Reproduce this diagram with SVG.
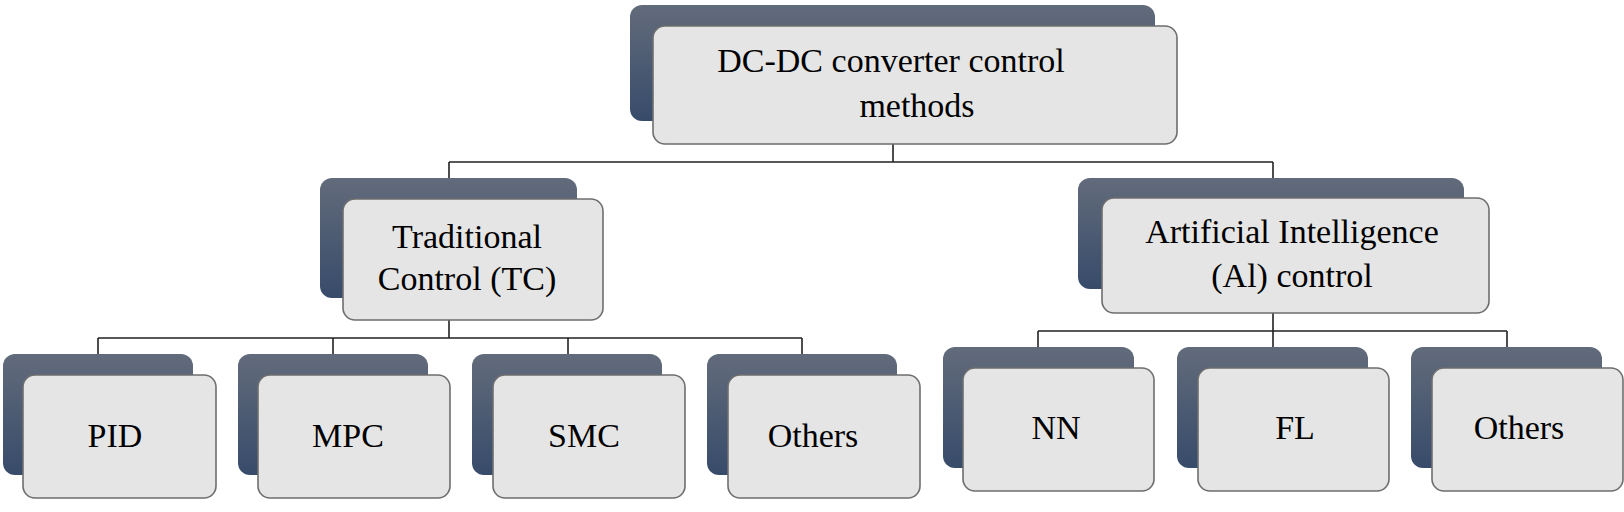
<svg xmlns="http://www.w3.org/2000/svg" width="1624" height="512" viewBox="0 0 1624 512">
<defs>
<linearGradient id="bg" x1="0" y1="0" x2="0" y2="1">
<stop offset="0" stop-color="#626b7b"/>
<stop offset="1" stop-color="#374b6a"/>
</linearGradient>
<style>
.back{fill:url(#bg);}
.front{fill:#e5e5e5;stroke:#6e6e6e;stroke-width:1.6;}
.t{font-family:"Liberation Serif","Times New Roman",serif;font-size:34px;fill:#000;text-anchor:middle;}
.c{fill:none;stroke:#222;stroke-width:1.6;}
</style>
</defs>
<rect width="1624" height="512" fill="#fff"/>
<g id="connectors">
<path class="c" d="M893 144V162M449 162H1273M449 162V178M1273 162V178"/>
<path class="c" d="M449 320V338M98 338H802M98 338V354M333 338V354M568 338V354M802 338V354"/>
<path class="c" d="M1273 313V331M1038 331H1507M1038 331V347M1273 331V347M1507 331V347"/>
</g>
<g id="root">
<rect class="back" x="630" y="5" width="525" height="116" rx="12"/>
<rect class="front" x="653" y="26" width="524" height="118" rx="12"/>
<text class="t" x="891" y="72">DC-DC converter control</text>
<text class="t" x="917" y="117">methods</text>
</g>
<g id="tc">
<rect class="back" x="320" y="178" width="257" height="120" rx="12"/>
<rect class="front" x="343" y="199" width="260" height="121" rx="12"/>
<text class="t" x="467" y="248">Traditional</text>
<text class="t" x="467" y="290">Control (TC)</text>
</g>
<g id="ai">
<rect class="back" x="1078" y="178" width="386" height="111" rx="12"/>
<rect class="front" x="1102" y="198" width="387" height="115" rx="12"/>
<text class="t" x="1292" y="243">Artificial Intelligence</text>
<text class="t" x="1292" y="287">(Al) control</text>
</g>
<g id="pid">
<rect class="back" x="3" y="354" width="190" height="121" rx="12"/>
<rect class="front" x="23" y="375" width="193" height="123" rx="12"/>
<text class="t" x="115" y="447">PID</text>
</g>
<g id="mpc">
<rect class="back" x="238" y="354" width="190" height="121" rx="12"/>
<rect class="front" x="258" y="375" width="192" height="123" rx="12"/>
<text class="t" x="348" y="447">MPC</text>
</g>
<g id="smc">
<rect class="back" x="472" y="354" width="190" height="121" rx="12"/>
<rect class="front" x="493" y="375" width="192" height="123" rx="12"/>
<text class="t" x="584" y="447">SMC</text>
</g>
<g id="tc-others">
<rect class="back" x="707" y="354" width="190" height="121" rx="12"/>
<rect class="front" x="728" y="375" width="192" height="123" rx="12"/>
<text class="t" x="813" y="447">Others</text>
</g>
<g id="nn">
<rect class="back" x="943" y="347" width="191" height="121" rx="12"/>
<rect class="front" x="963" y="368" width="191" height="123" rx="12"/>
<text class="t" x="1056" y="439">NN</text>
</g>
<g id="fl">
<rect class="back" x="1177" y="347" width="191" height="121" rx="12"/>
<rect class="front" x="1198" y="368" width="191" height="123" rx="12"/>
<text class="t" x="1295" y="439">FL</text>
</g>
<g id="ai-others">
<rect class="back" x="1411" y="347" width="191" height="121" rx="12"/>
<rect class="front" x="1432" y="368" width="191" height="123" rx="12"/>
<text class="t" x="1519" y="439">Others</text>
</g>
</svg>
